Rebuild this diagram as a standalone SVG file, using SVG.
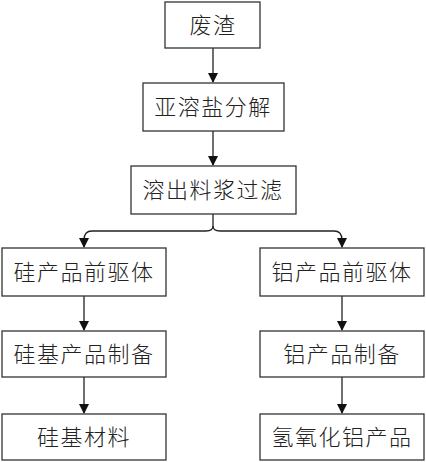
<svg xmlns="http://www.w3.org/2000/svg" width="426" height="462" viewBox="0 0 426 462">
<defs>
<style>
.box{fill:#fff;stroke:#333;stroke-width:1.3}
.t{font-family:"Noto Sans CJK SC","Noto Sans",sans-serif;font-size:22px;font-weight:300;fill:#222;text-anchor:middle;letter-spacing:1.5px}
.c{fill:none;stroke:#222;stroke-width:1.3}
</style>
<marker id="ah" markerWidth="10" markerHeight="10" refX="9" refY="5" orient="auto" markerUnits="userSpaceOnUse">
<path d="M0,0 L10,5 L0,10 Z" fill="#111"/>
</marker>
</defs>
<rect width="426" height="462" fill="#fff"/>
<g id="connectors">
<line class="c" x1="213" y1="48" x2="213" y2="82" marker-end="url(#ah)"/>
<line class="c" x1="213" y1="131" x2="213" y2="165" marker-end="url(#ah)"/>
<path class="c" d="M213,214 L213,226 Q213,231 206,231 L92,231 Q84,231 84,240 L84,247" marker-end="url(#ah)"/>
<path class="c" d="M213,226 Q213,231 220,231 L334,231 Q342,231 342,240 L342,247" marker-end="url(#ah)"/>
<line class="c" x1="84" y1="296" x2="84" y2="330" marker-end="url(#ah)"/>
<line class="c" x1="342" y1="296" x2="342" y2="330" marker-end="url(#ah)"/>
<line class="c" x1="84" y1="377" x2="84" y2="413" marker-end="url(#ah)"/>
<line class="c" x1="342" y1="377" x2="342" y2="413" marker-end="url(#ah)"/>
</g>
<g id="n1"><rect class="box" x="165" y="2" width="95" height="46"/><text class="t" x="213" y="33">废渣</text></g>
<g id="n2"><rect class="box" x="143" y="83" width="141" height="48"/><text class="t" x="213" y="115">亚溶盐分解</text></g>
<g id="n3"><rect class="box" x="131" y="166" width="165" height="48"/><text class="t" x="213" y="198">溶出料浆过滤</text></g>
<g id="n4"><rect class="box" x="2" y="248" width="164" height="48"/><text class="t" x="84" y="280">硅产品前驱体</text></g>
<g id="n5"><rect class="box" x="260" y="248" width="164" height="48"/><text class="t" x="342" y="280">铝产品前驱体</text></g>
<g id="n6"><rect class="box" x="2" y="331" width="164" height="46"/><text class="t" x="84" y="362">硅基产品制备</text></g>
<g id="n7"><rect class="box" x="260" y="331" width="164" height="46"/><text class="t" x="342" y="362">铝产品制备</text></g>
<g id="n8"><rect class="box" x="2" y="414" width="164" height="46"/><text class="t" x="84" y="445">硅基材料</text></g>
<g id="n9"><rect class="box" x="260" y="414" width="164" height="46"/><text class="t" x="342" y="445">氢氧化铝产品</text></g>
</svg>
